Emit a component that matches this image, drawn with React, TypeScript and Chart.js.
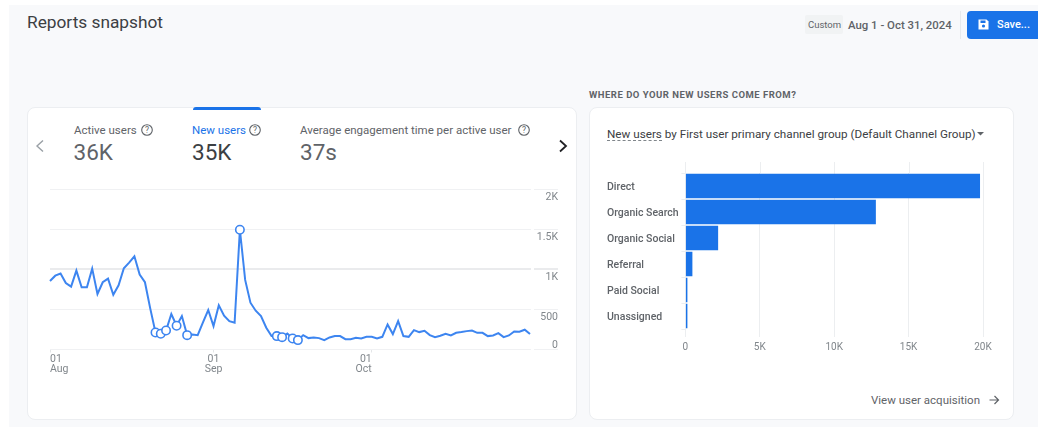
import React, { useEffect, useRef } from "react";
import { Chart, registerables } from "chart.js";

Chart.register(...registerables);

const newUsersByDay = [
  854, 920, 946, 829, 783, 983, 775, 775, 1008, 692, 838, 883, 683, 800, 1012, 1083, 1162, 933, 838, 512,
  212, 196, 237, 442, 296, 417, 179, 188, 179, 337, 492,
  292, 550, 421, 354, 333, 1492, 867, 583, 483, 417, 271, 167, 167, 154, 200, 137, 117, 179, 142, 150,
  142, 117, 150, 167, 167, 129, 129, 146, 137, 158,
  158, 137, 158, 312, 192, 354, 167, 158, 242, 217, 233, 179, 154, 171, 196, 175, 208, 217, 229, 237,
  208, 208, 167, 175, 204, 154, 175, 225, 221, 246, 192,
];
const anomalyDays = [20, 21, 22, 24, 26, 36, 43, 44, 46, 47];
const dateTickDays = [0, 31, 61];
const dateTickLabels = [["01", "Aug"], ["01", "Sep"], ["01", "Oct"]];
const usersTickValues = [0, 500, 1000, 1500, 2000];
const usersTickLabels = [["0", "", ""], "500", "1K", "1.5K", "2K"];

const channels = ["Direct", "Organic Search", "Organic Social", "Referral", "Paid Social", "Unassigned"];
const channelNewUsers = [19800, 12800, 2200, 470, 130, 60];
const channelTickValues = [0, 5000, 10000, 15000, 20000];
const channelTickLabels = ["0", "5K", "10K", "15K", "20K"];

const FONT = "Roboto, sans-serif";
const GREY = "#5f6368";

const gridGapPlugin = {
  id: "gridGap",
  beforeDatasetsDraw(chart: any) {
    const { ctx, chartArea } = chart;
    ctx.clearRect(chartArea.right + 1, chartArea.top - 3, 2.5, chartArea.bottom - chartArea.top + 6);
  },
};

const gridTopPlugin = {
  id: "gridTop",
  beforeDatasetsDraw(chart: any) {
    const { ctx, chartArea, scales } = chart;
    ctx.save();
    ctx.strokeStyle = "#eceef0";
    ctx.lineWidth = 1;
    for (const t of scales.x.ticks) {
      const x = Math.round(scales.x.getPixelForValue(t.value)) + 0.5;
      ctx.beginPath();
      ctx.moveTo(x, chartArea.top - 11);
      ctx.lineTo(x, chartArea.top);
      ctx.stroke();
    }
    ctx.restore();
  },
};

function LineChart() {
  const ref = useRef<HTMLCanvasElement>(null);
  useEffect(() => {
    const chart = new Chart(ref.current as HTMLCanvasElement, {
      type: "line",
      data: {
        labels: newUsersByDay.map((_, i) => String(i)),
        datasets: [
          {
            data: newUsersByDay,
            borderColor: "#3d85f0",
            borderWidth: 2,
            tension: 0,
            pointBackgroundColor: "#ffffff",
            pointBorderColor: "#3d85f0",
            pointBorderWidth: 1.6,
            pointRadius: (c: any) => (anomalyDays.includes(c.dataIndex) ? 4.2 : 0),
          },
        ],
      },
      options: {
        animation: false,
        responsive: false,
        layout: { autoPadding: false, padding: { left: 10, top: 10, right: 0, bottom: 0 } },
        plugins: { legend: { display: false }, tooltip: { enabled: false } },
        scales: {
          x: {
            grid: { drawOnChartArea: false, drawTicks: true, tickLength: 3, tickColor: "#e4e6e8" },
            border: { display: false },
            afterBuildTicks: (s: any) => {
              s.ticks = dateTickDays.map((value) => ({ value }));
            },
            afterFit: (s: any) => {
              s.height = 30.5;
            },
            ticks: {
              autoSkip: false,
              maxRotation: 0,
              minRotation: 0,
              align: "inner",
              padding: 2,
              color: "#80868b",
              font: { family: FONT, size: 10.5, lineHeight: 0.96 },
              callback: (v: any) => dateTickLabels[dateTickDays.indexOf(v)],
            },
          },
          y: {
            position: "right",
            min: 0,
            max: 2000,
            afterBuildTicks: (s: any) => {
              s.ticks = usersTickValues.map((value) => ({ value }));
            },
            afterFit: (s: any) => {
              s.width = 28;
            },
            grid: {
              tickLength: 28,
              color: (c: any) => (c.tick.value === 1000 ? "#eaebed" : "#f0f1f3"),
              tickColor: (c: any) => (c.tick.value === 1000 ? "#eaebed" : "#f0f1f3"),
              lineWidth: (c: any) => (c.tick.value === 1000 ? 2 : 1),
              tickWidth: (c: any) => (c.tick.value === 1000 ? 2 : 1),
            },
            border: { display: false },
            ticks: {
              autoSkip: false,
              crossAlign: "far",
              labelOffset: 8,
              color: "#80868b",
              font: { family: FONT, size: 10.5, lineHeight: 1.2 },
              callback: (v: any) => usersTickLabels[usersTickValues.indexOf(v)],
            },
          },
        },
      } as any,
      plugins: [gridGapPlugin],
    });
    return () => chart.destroy();
  }, []);
  return (
    <canvas
      ref={ref}
      width={518}
      height={201}
      style={{ position: "absolute", left: 40, top: 179, width: 518, height: 201 }}
    />
  );
}

function BarChart() {
  const ref = useRef<HTMLCanvasElement>(null);
  useEffect(() => {
    const chart = new Chart(ref.current as HTMLCanvasElement, {
      type: "bar",
      data: {
        labels: channels,
        datasets: [
          {
            data: channelNewUsers,
            backgroundColor: "#1a73e8",
            categoryPercentage: 1,
            barPercentage: 0.94,
            minBarLength: 2,
          },
        ],
      },
      options: {
        indexAxis: "y",
        animation: false,
        responsive: false,
        layout: { autoPadding: false, padding: { left: 0, top: 23, right: 20, bottom: 0 } },
        plugins: { legend: { display: false }, tooltip: { enabled: false } },
        scales: {
          x: {
            min: 0,
            max: 20000,
            afterBuildTicks: (s: any) => {
              s.ticks = channelTickValues.map((value) => ({ value }));
            },
            afterFit: (s: any) => {
              s.height = 31;
            },
            grid: { color: "#eceef0", tickColor: "#eceef0", tickLength: 8 },
            border: { display: false },
            ticks: {
              autoSkip: false,
              maxRotation: 0,
              padding: 4,
              color: "#80868b",
              font: { family: FONT, size: 10 },
              callback: (v: any) => channelTickLabels[channelTickValues.indexOf(v)],
            },
          },
          y: {
            afterFit: (s: any) => {
              s.width = 78.4;
            },
            grid: { drawOnChartArea: false, tickLength: 4, tickColor: "#eceef0" },
            border: { display: false },
            ticks: {
              crossAlign: "far",
              labelOffset: 1,
              color: GREY,
              font: { family: FONT, size: 10.5, weight: "500" },
            },
          },
        },
      } as any,
      plugins: [gridTopPlugin],
    });
    return () => chart.destroy();
  }, []);
  return (
    <canvas
      ref={ref}
      width={396}
      height={210}
      style={{ position: "absolute", left: 607, top: 150, width: 396, height: 210 }}
    />
  );
}

function Txt(props: { x: number; y: number; size: number; color?: string; weight?: number; spacing?: number; children: any }) {
  const { x, y, size, color = GREY, weight = 400, spacing = 0, children } = props;
  return (
    <div
      style={{
        position: "absolute",
        left: x,
        top: y - 15,
        height: 30,
        lineHeight: "30px",
        fontFamily: FONT,
        fontSize: size,
        color,
        fontWeight: weight,
        letterSpacing: spacing,
        whiteSpace: "nowrap",
      }}
    >
      {children}
    </div>
  );
}

function Help({ x, y }: { x: number; y: number }) {
  return (
    <svg style={{ position: "absolute", left: x - 7, top: y - 7 }} width={14} height={14}>
      <circle cx={7} cy={7} r={5.3} fill="none" stroke={GREY} strokeWidth={1.1} />
      <text x={7} y={10} textAnchor="middle" fontFamily={FONT} fontSize={8.5} fill={GREY}>?</text>
    </svg>
  );
}

function Chevron({ x, y, dir, color, width }: { x: number; y: number; dir: number; color: string; width: number }) {
  return (
    <svg style={{ position: "absolute", left: x - 8, top: y - 8 }} width={16} height={16}>
      <polyline
        points={`${8 - 3 * dir},2.5 ${8 + 3 * dir},8 ${8 - 3 * dir},13.5`}
        fill="none"
        stroke={color}
        strokeWidth={width}
      />
    </svg>
  );
}

const card = (left: number, width: number): React.CSSProperties => ({
  position: "absolute",
  left,
  top: 107,
  width,
  height: 313,
  boxSizing: "border-box",
  background: "#ffffff",
  border: "1px solid #eceef1",
  borderRadius: 8,
});

export default function App() {
  return (
    <div style={{ position: "fixed", left: 0, top: 0, width: 1038, height: 427, background: "#ffffff", overflow: "hidden" }}>
      <div style={{ position: "absolute", left: 9, top: 5, width: 1029, height: 422, background: "#f8f9fb" }} />
      <Txt x={27} y={22} size={17.3} color="#3c4043">Reports snapshot</Txt>

      <div style={{ position: "absolute", left: 805, top: 15, width: 38, height: 19, background: "#f1f3f4", borderRadius: 2 }} />
      <Txt x={808} y={24.5} size={9.5}>Custom</Txt>
      <Txt x={848} y={24.5} size={11.4} weight={500}>Aug 1 - Oct 31, 2024</Txt>
      <div style={{ position: "absolute", left: 960, top: 11, width: 1, height: 28, background: "#e8eaed" }} />
      <div style={{ position: "absolute", left: 967, top: 11, width: 80, height: 28, background: "#1a73e8", borderRadius: 4 }} />
      <svg style={{ position: "absolute", left: 977, top: 18 }} width={13} height={13}>
        <path d="M1.5 1.5h8l2 2v8h-10z" fill="#ffffff" />
        <rect x={3.5} y={2.5} width={5} height={2.5} fill="#1a73e8" />
        <circle cx={6.5} cy={8} r={1.6} fill="#1a73e8" />
      </svg>
      <Txt x={997} y={24.5} size={11} color="#ffffff" weight={500}>Save...</Txt>

      <Txt x={589} y={95} size={9.5} weight={700} spacing={0.5}>WHERE DO YOUR NEW USERS COME FROM?</Txt>

      <div style={card(27, 550)} />
      <div style={card(589, 424.5)} />
      <div style={{ position: "absolute", left: 193, top: 107, width: 68, height: 3, background: "#1a73e8", borderRadius: "3px 3px 0 0" }} />

      <Txt x={74} y={130} size={11.5}>Active users</Txt>
      <Help x={147} y={129.5} />
      <Txt x={73.5} y={152} size={22.5}>36K</Txt>
      <Txt x={192} y={130} size={11.5} color="#1a73e8">New users</Txt>
      <Help x={255} y={129.5} />
      <Txt x={192} y={152} size={22.5} color="#3c4043">35K</Txt>
      <Txt x={300} y={130} size={11.5}>Average engagement time per active user</Txt>
      <Help x={524} y={129.5} />
      <Txt x={300} y={152} size={22.5}>37s</Txt>
      <Chevron x={40} y={146} dir={-1} color="#9aa0a6" width={1.4} />
      <Chevron x={563} y={146} dir={1} color="#202124" width={1.8} />

      <LineChart />

      <Txt x={607} y={134} size={11.7} color="#3c4043">
        <span>New users</span> by First user primary channel group (Default Channel Group)
      </Txt>
      <div style={{ position: "absolute", left: 607, top: 140, width: 55, borderTop: "1px dashed #80868b" }} />
      <svg style={{ position: "absolute", left: 976, top: 131 }} width={10} height={6}>
        <path d="M1 1h7l-3.5 3.5z" fill={GREY} />
      </svg>

      <BarChart />

      <Txt x={871} y={400} size={11.5}>View user acquisition</Txt>
      <svg style={{ position: "absolute", left: 988, top: 394 }} width={13} height={12}>
        <path d="M1.5 6h9M6.5 2l4 4-4 4" fill="none" stroke={GREY} strokeWidth={1.2} />
      </svg>
    </div>
  );
}
